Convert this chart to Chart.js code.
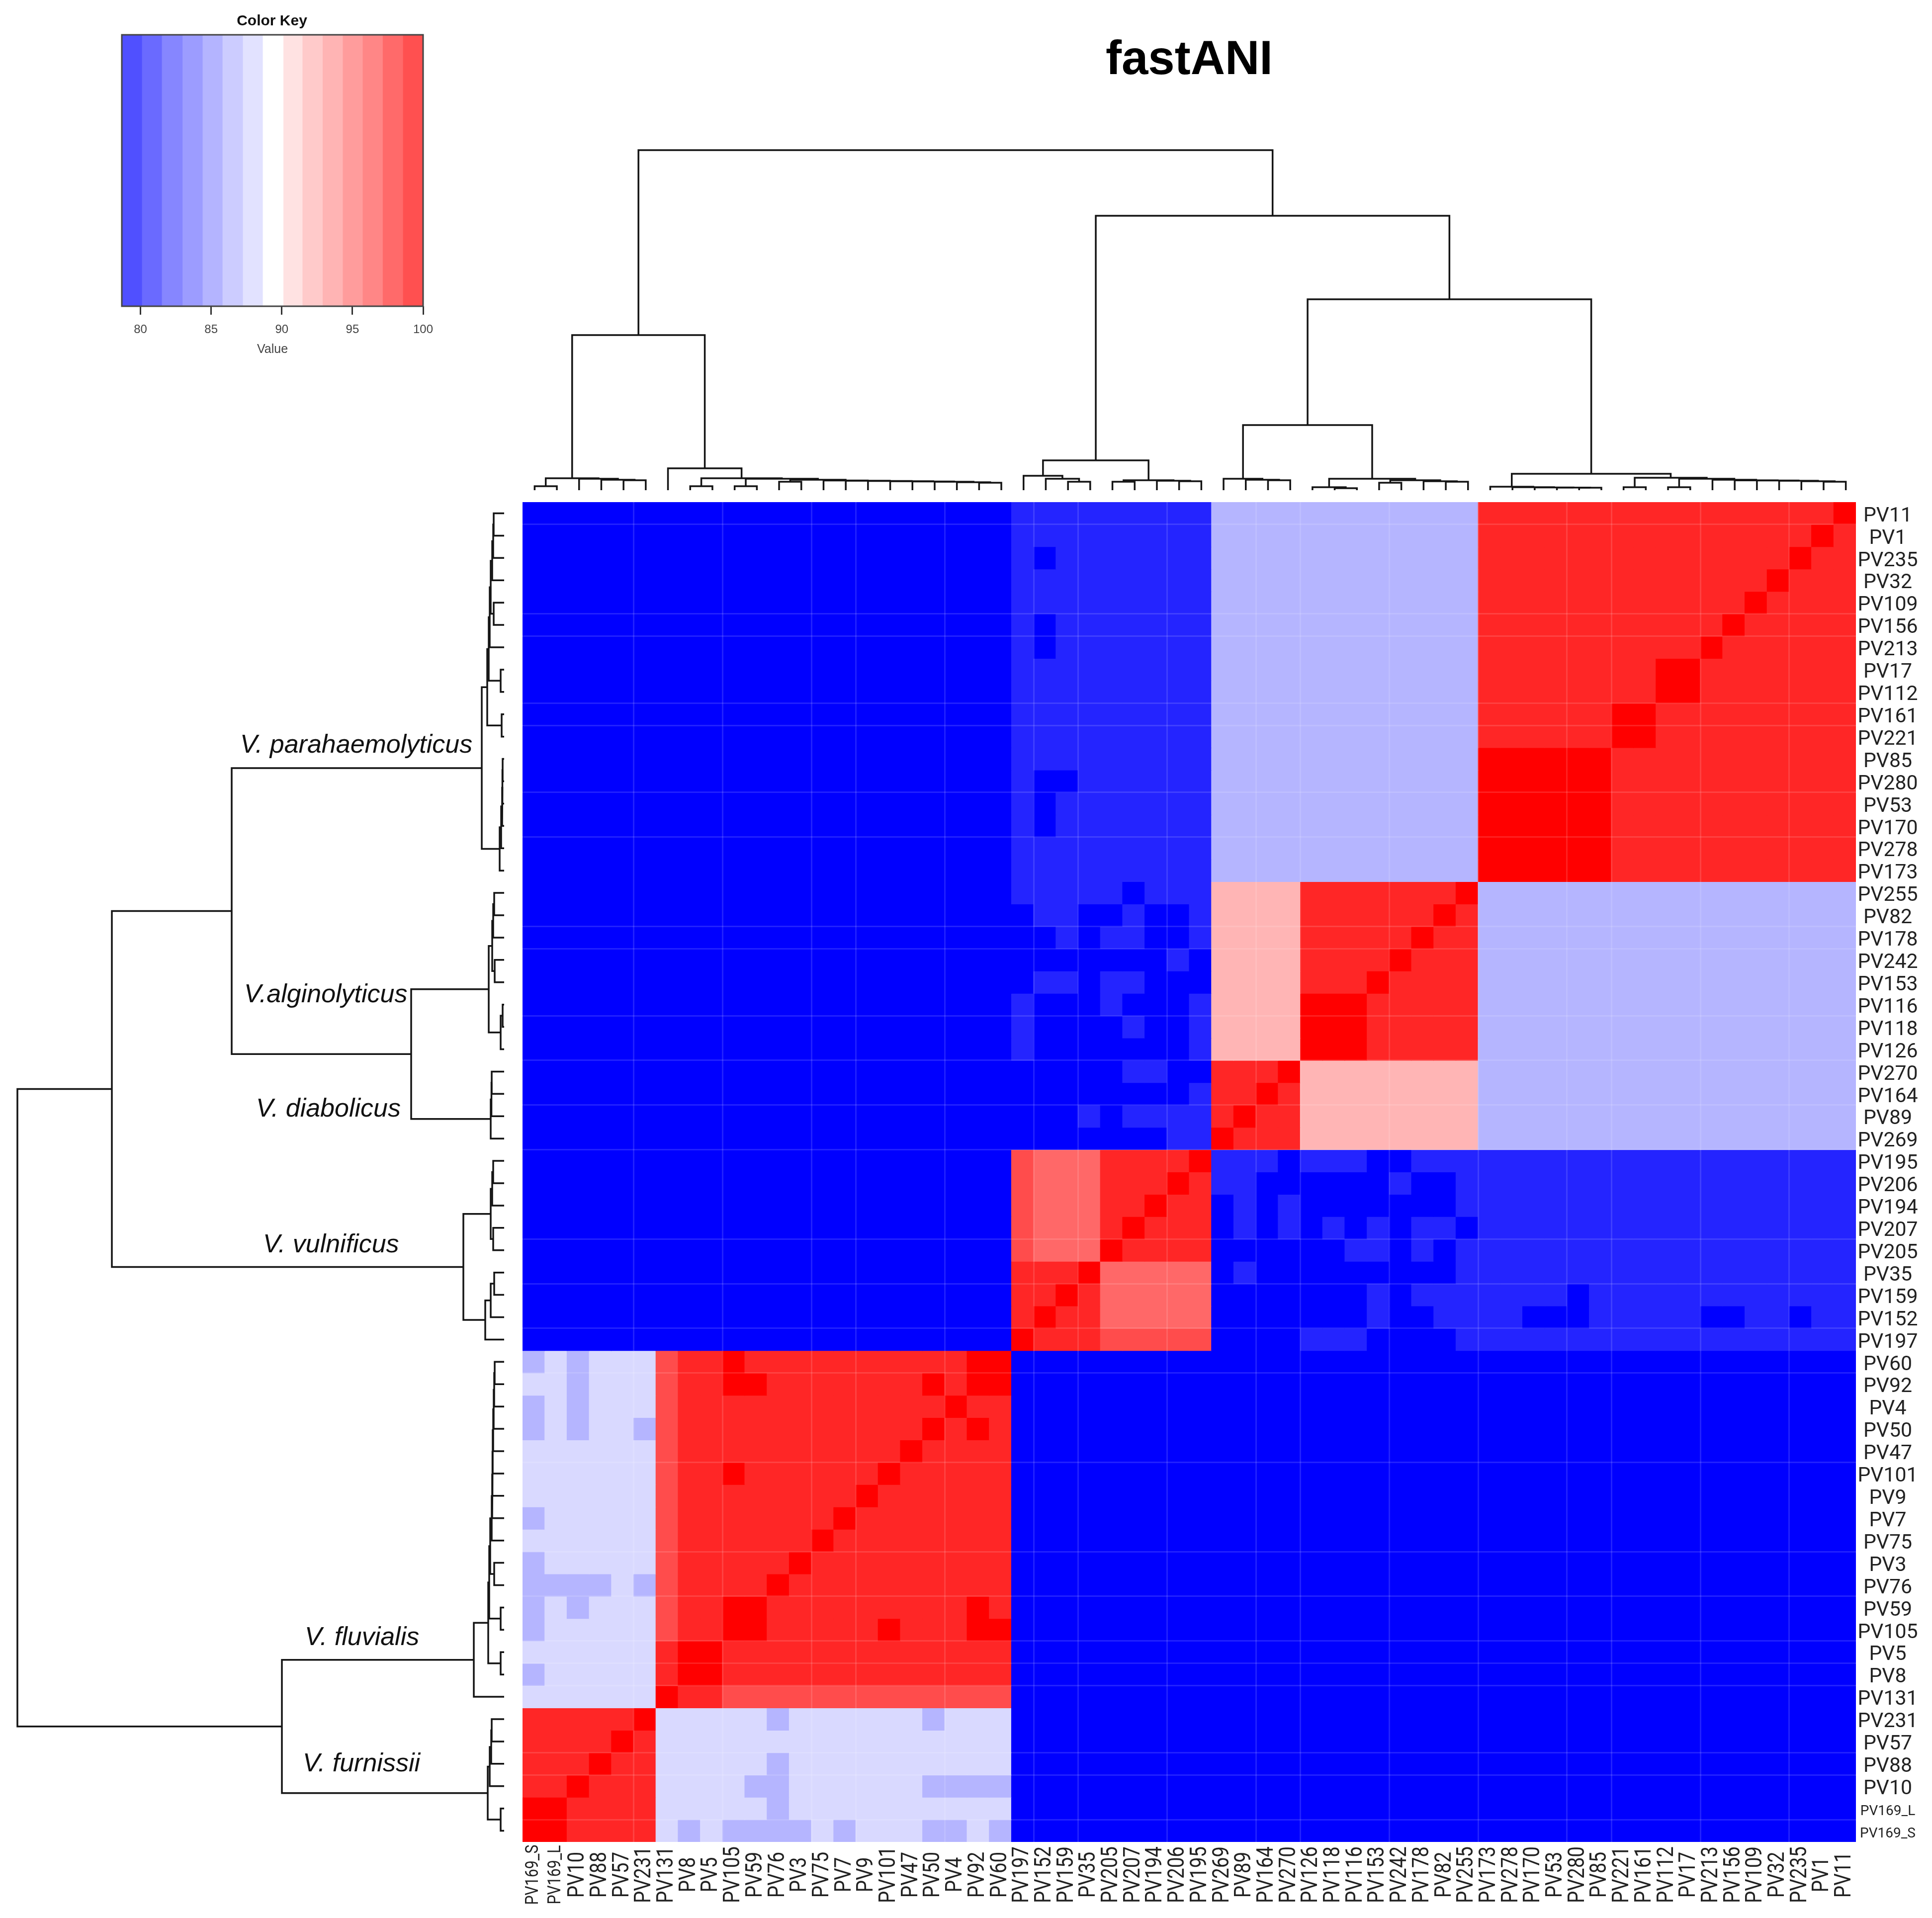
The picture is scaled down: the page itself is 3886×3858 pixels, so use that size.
<!DOCTYPE html>
<html>
<head>
<meta charset="utf-8">
<title>fastANI</title>
<script src="https://cdn.jsdelivr.net/npm/chart.js@4/dist/chart.umd.min.js"></script>
<style>
    html, body { margin: 0; padding: 0; background: #fff; }
    body { position: relative; width: 3886px; height: 3858px; overflow: hidden; }
    canvas { position: absolute; display: block; }
</style>
</head>
<body>
<canvas id="heatChart" width="3886" height="3858" style="left:0;top:0"></canvas>
<canvas id="topTreeChart" width="2682" height="700" style="left:1053px;top:286px"></canvas>
<canvas id="leftTreeChart" width="1014" height="2695" style="left:0;top:1010px"></canvas>
<canvas id="keyChart" width="1000" height="718" style="left:0;top:0"></canvas>
<script>
const rowNames = ['PV11', 'PV1', 'PV235', 'PV32', 'PV109', 'PV156', 'PV213', 'PV17', 'PV112', 'PV161', 'PV221', 'PV85', 'PV280', 'PV53', 'PV170', 'PV278', 'PV173',
    'PV255', 'PV82', 'PV178', 'PV242', 'PV153', 'PV116', 'PV118', 'PV126',
    'PV270', 'PV164', 'PV89', 'PV269',
    'PV195', 'PV206', 'PV194', 'PV207', 'PV205', 'PV35', 'PV159', 'PV152', 'PV197',
    'PV60', 'PV92', 'PV4', 'PV50', 'PV47', 'PV101', 'PV9', 'PV7', 'PV75', 'PV3', 'PV76', 'PV59', 'PV105', 'PV5', 'PV8', 'PV131',
    'PV231', 'PV57', 'PV88', 'PV10', 'PV169_L', 'PV169_S'];

const colNames = ['PV169_S', 'PV169_L', 'PV10', 'PV88', 'PV57', 'PV231',
    'PV131', 'PV8', 'PV5', 'PV105', 'PV59', 'PV76', 'PV3', 'PV75', 'PV7', 'PV9', 'PV101', 'PV47', 'PV50', 'PV4', 'PV92', 'PV60',
    'PV197', 'PV152', 'PV159', 'PV35', 'PV205', 'PV207', 'PV194', 'PV206', 'PV195',
    'PV269', 'PV89', 'PV164', 'PV270',
    'PV126', 'PV118', 'PV116', 'PV153', 'PV242', 'PV178', 'PV82', 'PV255',
    'PV173', 'PV278', 'PV170', 'PV53', 'PV280', 'PV85', 'PV221', 'PV161', 'PV112', 'PV17', 'PV213', 'PV156', 'PV109', 'PV32', 'PV235', 'PV1', 'PV11'];

// one digit per cell, index into levelValues. spaces only split the species blocks
const levelValues = [79.4, 80.8, 86.5, 87.9, 93.6, 96.4, 97.8, 99.2, 100];
const levelColors = ['#0000ff', '#2424ff', '#b5b5ff', '#d9d9ff', '#ffb5b5', '#ff6868', '#ff4c4c', '#ff2626', '#ff0000'];

const cellLevels = [
    '000000 0000000000000000 111111111 2222 22222222 77777777777777778',
    '000000 0000000000000000 111111111 2222 22222222 77777777777777787',
    '000000 0000000000000000 101111111 2222 22222222 77777777777777877',
    '000000 0000000000000000 111111111 2222 22222222 77777777777778777',
    '000000 0000000000000000 111111111 2222 22222222 77777777777787777',
    '000000 0000000000000000 101111111 2222 22222222 77777777777877777',
    '000000 0000000000000000 101111111 2222 22222222 77777777778777777',
    '000000 0000000000000000 111111111 2222 22222222 77777777887777777',
    '000000 0000000000000000 111111111 2222 22222222 77777777887777777',
    '000000 0000000000000000 111111111 2222 22222222 77777788777777777',
    '000000 0000000000000000 111111111 2222 22222222 77777788777777777',
    '000000 0000000000000000 111111111 2222 22222222 88888877777777777',
    '000000 0000000000000000 100111111 2222 22222222 88888877777777777',
    '000000 0000000000000000 101111111 2222 22222222 88888877777777777',
    '000000 0000000000000000 101111111 2222 22222222 88888877777777777',
    '000000 0000000000000000 111111111 2222 22222222 88888877777777777',
    '000000 0000000000000000 111111111 2222 22222222 88888877777777777',
    '000000 0000000000000000 111110111 4444 77777778 22222222222222222',
    '000000 0000000000000000 011001001 4444 77777787 22222222222222222',
    '000000 0000000000000000 001011001 4444 77777877 22222222222222222',
    '000000 0000000000000000 000000010 4444 77778777 22222222222222222',
    '000000 0000000000000000 011011000 4444 77787777 22222222222222222',
    '000000 0000000000000000 100010001 4444 88877777 22222222222222222',
    '000000 0000000000000000 100001001 4444 88877777 22222222222222222',
    '000000 0000000000000000 100000001 4444 88877777 22222222222222222',
    '000000 0000000000000000 000001100 7778 44444444 22222222222222222',
    '000000 0000000000000000 000000001 7787 44444444 22222222222222222',
    '000000 0000000000000000 000101111 7877 44444444 22222222222222222',
    '000000 0000000000000000 000000011 8777 44444444 22222222222222222',
    '000000 0000000000000000 655577778 1110 11100111 11111111111111111',
    '000000 0000000000000000 655577787 1100 00001001 11111111111111111',
    '000000 0000000000000000 655577877 0101 00000001 11111111111111111',
    '000000 0000000000000000 655578777 0101 01010110 11111111111111111',
    '000000 0000000000000000 655587777 0000 00110101 11111111111111111',
    '000000 0000000000000000 777855555 0100 00000001 11111111111111111',
    '000000 0000000000000000 778755555 0000 00010111 11110111111111111',
    '000000 0000000000000000 787755555 0000 00010011 11000111110011011',
    '000000 0000000000000000 877766666 0000 11100001 11111111111111111',
    '232333 6778777777777788 000000000 0000 00000000 00000000000000000',
    '332333 6778877777778788 000000000 0000 00000000 00000000000000000',
    '232333 6777777777777877 000000000 0000 00000000 00000000000000000',
    '232332 6777777777778787 000000000 0000 00000000 00000000000000000',
    '333333 6777777777787777 000000000 0000 00000000 00000000000000000',
    '333333 6778777777877777 000000000 0000 00000000 00000000000000000',
    '333333 6777777778777777 000000000 0000 00000000 00000000000000000',
    '233333 6777777787777777 000000000 0000 00000000 00000000000000000',
    '333333 6777777877777777 000000000 0000 00000000 00000000000000000',
    '233333 6777778777777777 000000000 0000 00000000 00000000000000000',
    '222232 6777787777777777 000000000 0000 00000000 00000000000000000',
    '232333 6778877777777787 000000000 0000 00000000 00000000000000000',
    '233333 6778877777877788 000000000 0000 00000000 00000000000000000',
    '333333 7887777777777777 000000000 0000 00000000 00000000000000000',
    '233333 7887777777777777 000000000 0000 00000000 00000000000000000',
    '333333 8776666666666666 000000000 0000 00000000 00000000000000000',
    '777778 3333323333332333 000000000 0000 00000000 00000000000000000',
    '777787 3333333333333333 000000000 0000 00000000 00000000000000000',
    '777877 3333323333333333 000000000 0000 00000000 00000000000000000',
    '778777 3333223333332222 000000000 0000 00000000 00000000000000000',
    '887777 3333323333333333 000000000 0000 00000000 00000000000000000',
    '887777 3232222323332232 000000000 0000 00000000 00000000000000000'
];

// merges as [height, left, right], a plain number is a leaf index
const colFurn = [24, [8, 0, 1], [23, 2, [21, 3, [20, 4, 5]]]];
const colFluvTail = [19.5, 13, [19, 14, [18.5, 15, [18, 16, [17.5, 17, [17, 18, [16, 19, [15, 20, 21]]]]]]]];
const colFluv = [44, 6, [24, [8, 7, 8], [23, [8, 9, 10], [21, [17, 11, 12], colFluvTail]]]];
const colVuln = [60, [29, 22, [23, 23, [17, 24, 25]]], [20, [17, 26, 27], [19, 28, [18, 29, 30]]]];
const colDiab = [23, 31, [21, 32, [20, 33, 34]]];
const colAlgi = [23, [6, 35, [4, 36, 37]], [20, [15, 38, 39], [18, 40, [17, 41, 42]]]];
const colParaLeft = [7, 43, [6, 44, [5.5, 45, [5.3, 46, [5, 47, 48]]]]];
const colParaTail = [21, 53, [19.7, 54, [19.5, 55, [19, 56, [18, 57, [17, 58, 59]]]]]];
const colParaRight = [25, [6, 49, 50], [23, [6, 51, 52], colParaTail]];
const colPara = [33, colParaLeft, colParaRight];
const colTree = [684, [312, colFurn, colFluv], [552, colVuln, [384, [131, colDiab, colAlgi], colPara]]];

const rowParaTop = [34, [5, 9, 10], [31, [7, 7, 8], [29, [27, [24, [22, [21, 0, 1], 2], 3], [21, 4, 5]], 6]]];
const rowParaLow = [9, [6, [4, [3.5, [3, 11, 12], 13], 14], 15], 16];
const rowAlgi = [31, [24, [22, [20, 17, 18], 19], [19, 20, 21]], [7, [3, 22, 23], 24]];
const rowDiab = [27, [25.5, [25, 25, 26], 27], 28];
const rowVuln = [82, [27, [24, [22, 29, 30], 31], [22, 32, 33]], [38, [27, [20, 34, 35], 36], 37]];
const rowFluvTail = [25, [24, [23.5, [23, [22, [21, [20, [19, 38, 39], 40], 41], 42], 43], 44], 45], 46];
const rowFluv = [61, [32, [7, 51, 52], [30, [7, 49, 50], [28, rowFluvTail, [20, 47, 48]]]], 53];
const rowFurn = [33, [29, [26, [25, 54, 55], 56], 57], [7, 58, 59]];
const rowTree = [979, [789, [548, [45, rowParaTop, rowParaLow], [187, rowAlgi, rowDiab]], rowVuln], [447, rowFluv, rowFurn]];

const keyBreaks = [78.68, 80.09, 81.5, 82.96, 84.38, 85.79, 87.23, 88.64, 90.1, 91.45, 92.88, 94.3, 95.71, 97.13, 98.56, 100];
const keyColors = ['#5050ff', '#6a6aff', '#8686ff', '#9c9cff', '#b4b4ff', '#ccccff', '#e2e2ff', '#ffffff', '#ffe2e2', '#ffcaca', '#ffb4b4', '#ff9c9c', '#ff8686', '#ff6a6a', '#ff5050'];
const keyTicks = [80, 85, 90, 95, 100];

const speciesNames = ['V. parahaemolyticus', 'V.alginolyticus', 'V. diabolicus', 'V. vulnificus', 'V. fluvialis', 'V. furnissii'];
const speciesSpots = [[483, 1514], [491, 2016], [515, 2246], [529, 2519], [613, 3309], [609, 3563]];

// faint resampling seams visible in the picture, as cell boundaries
const seamCols = [5, 9, 13, 15, 19, 23, 25, 29, 33, 35, 39, 43, 47, 49, 53, 57];
const seamRows = [1, 5, 6, 9, 10, 13, 15, 19, 20, 23, 25, 27, 29, 33, 35, 37, 39, 43, 47, 49, 51, 52, 53, 56, 57, 59];

const lineColor = '#141414';
const seamColor = 'rgba(255,255,255,0.13)';

const heatDatasets = cellLevels.map((line, r) => {
    const levels = line.replace(/ /g, '').split('').map(Number);
    return {
        label: rowNames[r],
        data: levels.map(() => [r, r + 1]),
        values: levels.map(l => levelValues[l]),
        backgroundColor: levels.map(l => levelColors[l]),
        borderWidth: 0,
        inflateAmount: 0.5,
        barPercentage: 1,
        categoryPercentage: 1,
        grouped: false,
        yAxisID: 'y'
    };
});

const heatText = {
    id: 'heatText',
    afterDraw(chart) {
        const ctx = chart.ctx;
        const xs = chart.scales.x;
        const ys = chart.scales.yRows;
        ctx.save();
        ctx.fillStyle = '#222';
        ctx.textAlign = 'center';
        ctx.textBaseline = 'middle';

        rowNames.forEach((name, i) => {
            ctx.font = name.startsWith('PV169') ? '28px Roboto' : '41px Roboto';
            ctx.fillText(name, 3797, ys.getPixelForTick(i) + 6);
        });
        colNames.forEach((name, i) => {
            const small = name.startsWith('PV169');
            ctx.save();
            ctx.translate(xs.getPixelForTick(i), 3771);
            ctx.rotate(-Math.PI / 2);
            ctx.scale(0.84, 1);
            ctx.font = small ? '36px Roboto' : '46px Roboto';
            ctx.fillText(name, 0, 0);
            ctx.restore();
        });

        ctx.fillStyle = '#111';
        ctx.textAlign = 'left';
        ctx.textBaseline = 'alphabetic';
        ctx.font = 'italic 52px "Liberation Sans"';
        speciesNames.forEach((name, i) => ctx.fillText(name, speciesSpots[i][0], speciesSpots[i][1]));

        ctx.fillStyle = '#000';
        ctx.textAlign = 'center';
        ctx.font = 'bold 96px "Liberation Sans"';
        ctx.fillText('fastANI', 2392, 149);
        ctx.restore();
    }
};

new Chart(document.getElementById('heatChart'), {
    type: 'bar',
    data: { labels: colNames, datasets: heatDatasets },
    options: {
        responsive: false,
        animation: false,
        devicePixelRatio: 1,
        events: [],
        layout: { padding: { left: 1051, top: 1010, right: 0, bottom: 0 } },
        plugins: { legend: { display: false }, tooltip: { enabled: false } },
        scales: {
            x: {
                type: 'category',
                offset: true,
                afterFit: s => { s.height = 153; },
                ticks: { display: false, autoSkip: false },
                border: { display: false },
                grid: {
                    offset: true,
                    z: 1,
                    drawTicks: false,
                    lineWidth: 3,
                    color: c => seamCols.includes(c.index) ? seamColor : 'rgba(0,0,0,0)'
                }
            },
            y: { type: 'linear', display: false, min: 0, max: 60, reverse: true },
            yRows: {
                type: 'category',
                axis: 'y',
                position: 'right',
                labels: rowNames,
                offset: true,
                afterFit: s => { s.width = 153; },
                ticks: { display: false, autoSkip: false },
                border: { display: false },
                grid: {
                    offset: true,
                    z: 1,
                    drawTicks: false,
                    lineWidth: 3,
                    color: c => seamRows.includes(c.index) ? seamColor : 'rgba(0,0,0,0)'
                }
            }
        }
    },
    plugins: [heatText]
});

// walks a tree, adds one bracket per merge and gives back the node position
const treeSegments = (node, toPoint, out) => {
    if (typeof node === 'number') return { pos: node + 0.5, h: 0 };
    const a = treeSegments(node[1], toPoint, out);
    const b = treeSegments(node[2], toPoint, out);
    out.push({
        data: [toPoint(a.pos, a.h), toPoint(a.pos, node[0]), toPoint(b.pos, node[0]), toPoint(b.pos, b.h)],
        showLine: true,
        borderColor: lineColor,
        borderWidth: 3.5,
        pointRadius: 0,
        clip: false,
        tension: 0
    });
    return { pos: (a.pos + b.pos) / 2, h: node[0] };
};

const treeOptions = (scales) => ({
    responsive: false,
    animation: false,
    devicePixelRatio: 1,
    events: [],
    layout: { padding: 0 },
    plugins: { legend: { display: false }, tooltip: { enabled: false } },
    scales
});

const topSegments = [];
treeSegments(colTree, (pos, h) => ({ x: pos, y: h }), topSegments);
new Chart(document.getElementById('topTreeChart'), {
    type: 'scatter',
    data: { datasets: topSegments },
    options: treeOptions({
        x: { type: 'linear', display: false, min: 0, max: 60 },
        y: { type: 'linear', display: false, min: 0, max: 700 }
    })
});

const leftSegments = [];
treeSegments(rowTree, (pos, h) => ({ x: h, y: pos }), leftSegments);
new Chart(document.getElementById('leftTreeChart'), {
    type: 'scatter',
    data: { datasets: leftSegments },
    options: treeOptions({
        x: { type: 'linear', display: false, min: 0, max: 1014, reverse: true },
        y: { type: 'linear', display: false, min: 0, max: 60, reverse: true }
    })
});

const keyFrame = {
    id: 'keyFrame',
    afterDraw(chart) {
        const { ctx, chartArea: a } = chart;
        ctx.save();
        ctx.strokeStyle = '#444';
        ctx.lineWidth = 3;
        ctx.strokeRect(a.left, a.top, a.right - a.left, a.bottom - a.top);
        ctx.fillStyle = '#111';
        ctx.textAlign = 'center';
        ctx.font = 'bold 30px "Liberation Sans"';
        ctx.fillText('Color Key', 547, 51);
        ctx.restore();
    }
};

new Chart(document.getElementById('keyChart'), {
    type: 'bar',
    data: {
        labels: ['Value'],
        datasets: keyColors.map((color, i) => ({
            data: [[keyBreaks[i], keyBreaks[i + 1]]],
            backgroundColor: color,
            borderWidth: 0,
            inflateAmount: 0.5,
            barPercentage: 1,
            categoryPercentage: 1,
            grouped: false
        }))
    },
    options: {
        indexAxis: 'y',
        responsive: false,
        animation: false,
        devicePixelRatio: 1,
        events: [],
        layout: { padding: { left: 245, right: 149, top: 70, bottom: 0 } },
        plugins: { legend: { display: false }, tooltip: { enabled: false } },
        scales: {
            x: {
                type: 'linear',
                min: keyBreaks[0],
                max: 100,
                afterFit: s => { s.height = 102; },
                afterBuildTicks: s => { s.ticks = keyTicks.map(v => ({ value: v })); },
                ticks: {
                    autoSkip: false,
                    maxRotation: 0,
                    padding: 16,
                    color: '#444',
                    font: { family: '"Liberation Sans"', size: 24 }
                },
                grid: { drawOnChartArea: false, tickLength: 17, tickWidth: 3, tickColor: '#333' },
                border: { display: false },
                title: {
                    display: true,
                    text: 'Value',
                    color: '#444',
                    padding: 0,
                    font: { family: '"Liberation Sans"', size: 25 }
                }
            },
            y: { display: false }
        }
    },
    plugins: [keyFrame]
});
</script>
</body>
</html>
